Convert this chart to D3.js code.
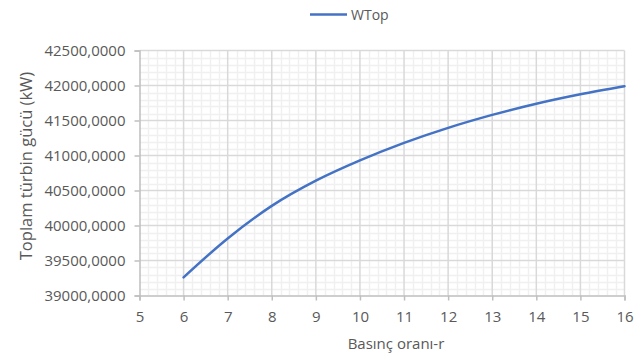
<!DOCTYPE html>
<html>
<head>
<meta charset="utf-8">
<script src="https://cdn.jsdelivr.net/npm/d3@7"></script>
<style>
    body { margin: 0; background: #fff; }
    svg { display: block; font-family: "Open Sans", sans-serif; }
    .tick-label { fill: #595959; font-size: 15px; }
    .title { fill: #595959; font-size: 15px; }
</style>
</head>
<body>
<svg id="chart" width="643" height="358"></svg>
<script>
    // Basınç oranı (x) ve toplam türbin gücü (y)
    var pressure_ratio = [6, 7, 8, 9, 10, 11, 12, 13, 14, 15, 16];
    var wtop = [39260, 39815, 40280, 40640, 40930, 41180, 41395, 41580, 41740, 41875, 41990];

    var x_ticks = [5, 6, 7, 8, 9, 10, 11, 12, 13, 14, 15, 16];
    var y_ticks = [39000, 39500, 40000, 40500, 41000, 41500, 42000, 42500];

    var series_name = "WTop";
    var x_title = "Basınç oranı-r";
    var y_title = "Toplam türbin gücü (kW)";

    var svg = d3.select("#chart");

    var margin = {left: 139.5, right: 624.5, top: 50.5, bottom: 295.5};

    var x = d3.scaleLinear()
        .domain([5, 16])
        .range([margin.left, margin.right]);

    var y = d3.scaleLinear()
        .domain([39000, 42500])
        .range([margin.bottom, margin.top]);

    // ince ızgara
    var minor_x = d3.range(50, 161, 2).map(d => d / 10).filter(d => x_ticks.indexOf(d) < 0);
    var minor_y = d3.range(39000, 42501, 100).filter(d => y_ticks.indexOf(d) < 0);

    var grid = svg.append("g");

    grid.selectAll(".minor-x")
        .data(minor_x)
        .enter()
        .append("line")
        .attr("x1", d => Math.round(x(d)) + 0.5)
        .attr("x2", d => Math.round(x(d)) + 0.5)
        .attr("y1", margin.top)
        .attr("y2", margin.bottom)
        .attr("stroke", "#f0f0f0")
        .attr("stroke-width", 1.5);

    grid.selectAll(".minor-y")
        .data(minor_y)
        .enter()
        .append("line")
        .attr("x1", margin.left)
        .attr("x2", margin.right)
        .attr("y1", d => Math.round(y(d)) + 0.5)
        .attr("y2", d => Math.round(y(d)) + 0.5)
        .attr("stroke", "#f0f0f0")
        .attr("stroke-width", 1.5);

    // ana ızgara
    grid.selectAll(".major-x")
        .data(x_ticks.slice(1))
        .enter()
        .append("line")
        .attr("x1", d => x(d))
        .attr("x2", d => x(d))
        .attr("y1", margin.top)
        .attr("y2", margin.bottom)
        .attr("stroke", "#d9d9d9")
        .attr("stroke-width", 1.5);

    grid.selectAll(".major-y")
        .data(y_ticks.slice(1))
        .enter()
        .append("line")
        .attr("x1", margin.left)
        .attr("x2", margin.right)
        .attr("y1", d => y(d))
        .attr("y2", d => y(d))
        .attr("stroke", "#d9d9d9")
        .attr("stroke-width", 1.5);

    // eksenler
    var x_axis = svg.append("g")
        .attr("transform", "translate(0," + margin.bottom + ")")
        .call(d3.axisBottom(x).tickValues(x_ticks).tickSize(5).tickPadding(11).tickFormat(d3.format("d")));

    var y_axis = svg.append("g")
        .attr("transform", "translate(" + margin.left + ",0)")
        .call(d3.axisLeft(y).tickValues(y_ticks).tickSize(5).tickPadding(9)
            .tickFormat(d => d + ",0000"));

    [x_axis, y_axis].forEach(function(ax) {
        ax.attr("font-family", null).attr("font-size", null);
        ax.select(".domain").attr("stroke", "#bfbfbf").attr("stroke-width", 1.5);
        ax.selectAll(".tick line").attr("stroke", "#bfbfbf").attr("stroke-width", 1.5);
        ax.selectAll(".tick text")
            .attr("class", "tick-label")
            .attr("fill", null);
    });

    // eğri
    var line = d3.line()
        .x((d, i) => x(pressure_ratio[i]))
        .y(d => y(d))
        .curve(d3.curveMonotoneX);

    svg.append("path")
        .datum(wtop)
        .attr("d", line)
        .attr("fill", "none")
        .attr("stroke", "#4472c4")
        .attr("stroke-width", 2.5)
        .attr("stroke-linecap", "round");

    // başlıklar
    svg.append("text")
        .attr("class", "title")
        .attr("x", 396)
        .attr("y", 349)
        .attr("text-anchor", "middle")
        .text(x_title);

    svg.append("text")
        .attr("class", "title")
        .attr("transform", "translate(32,166) rotate(-90)")
        .attr("text-anchor", "middle")
        .style("font-size", "16.5px")
        .text(y_title);

    // lejant
    var legend = svg.append("g");

    legend.append("line")
        .attr("x1", 310)
        .attr("x2", 347)
        .attr("y1", 14.5)
        .attr("y2", 14.5)
        .attr("stroke", "#4472c4")
        .attr("stroke-width", 2.5);

    legend.append("text")
        .attr("class", "title")
        .attr("x", 351)
        .attr("y", 19.5)
        .style("font-size", "14px")
        .text(series_name);
</script>
</body>
</html>
